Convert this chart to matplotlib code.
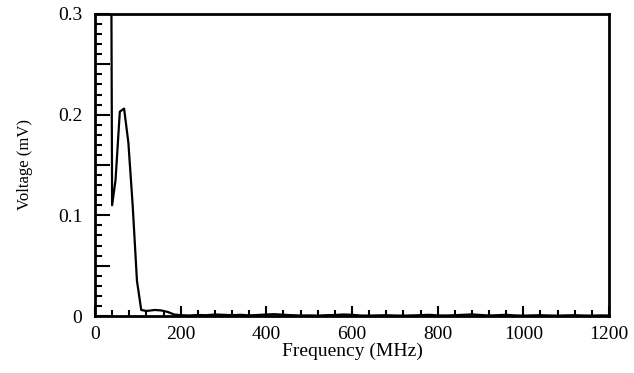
import matplotlib
matplotlib.use('Agg')
import matplotlib.pyplot as plt
from matplotlib.ticker import MultipleLocator, FixedLocator, FixedFormatter

plt.rcParams['font.family'] = ['Liberation Serif', 'DejaVu Serif']

# 频率 (MHz) 与电压 (mV)
freq = [36, 40, 48, 58, 68, 78, 88, 98, 108, 120, 140, 155, 170, 185, 200,
        220, 240, 260, 280, 300, 320, 340, 360, 380, 400, 420, 440, 460, 480,
        500, 520, 540, 560, 580, 600, 620, 640, 660, 680, 700, 720, 740, 760,
        780, 800, 820, 840, 860, 880, 900, 920, 940, 960, 980, 1000, 1020,
        1040, 1060, 1080, 1100, 1120, 1140, 1160, 1180, 1200]
voltage = [0.6, 0.110, 0.135, 0.203, 0.206, 0.172, 0.110, 0.035, 0.006, 0.005,
           0.006, 0.0055, 0.004, 0.0015, 0.0008,
           0.0005, 0.001, 0.0008, 0.0015, 0.0012, 0.0008, 0.0012, 0.0006, 0.001,
           0.0015, 0.0018, 0.0012, 0.0008, 0.0005, 0.0006, 0.0004, 0.0008, 0.001,
           0.0015, 0.0012, 0.0005, 0.0004, 0.0006, 0.0008, 0.0005, 0.0004, 0.0006,
           0.0008, 0.0012, 0.0006, 0.0005, 0.0008, 0.0012, 0.0016, 0.001, 0.0005,
           0.0008, 0.0012, 0.0006, 0.0004, 0.0006, 0.0008, 0.0005, 0.0004, 0.0006,
           0.0008, 0.0005, 0.0004, 0.0006, 0.0005]

xtick_values = [0, 200, 400, 600, 800, 1000, 1200]
ytick_values = [0, 0.05, 0.1, 0.15, 0.2, 0.25, 0.3]
ytick_labels = ['0', '', '0.1', '', '0.2', '', '0.3']

fig = plt.figure(figsize=(6.34, 3.73), dpi=100)
ax = fig.add_axes([0.1498, 0.1528, 0.8108, 0.8097])
ax.plot(freq, voltage, color='black', linewidth=1.6)

ax.set_xlim(0, 1200)
ax.set_ylim(0, 0.3)
ax.xaxis.set_major_locator(FixedLocator(xtick_values))
ax.xaxis.set_minor_locator(MultipleLocator(40))
ax.yaxis.set_major_locator(FixedLocator(ytick_values))
ax.yaxis.set_major_formatter(FixedFormatter(ytick_labels))
ax.yaxis.set_minor_locator(MultipleLocator(0.01))

ax.tick_params(axis='both', which='both', direction='in', width=1.5,
               top=False, right=False, labelsize=14)
ax.tick_params(axis='y', which='major', length=11, pad=9)
ax.tick_params(axis='y', which='minor', length=5)
ax.tick_params(axis='x', which='major', length=7, pad=7)
ax.tick_params(axis='x', which='minor', length=4)
for s in ax.spines.values():
    s.set_linewidth(2)

ax.set_xlabel('Frequency (MHz)', fontsize=14, labelpad=0)
ax.set_ylabel('Voltage (mV)', fontsize=12, labelpad=18)

fig.savefig('out.png', dpi=100)
